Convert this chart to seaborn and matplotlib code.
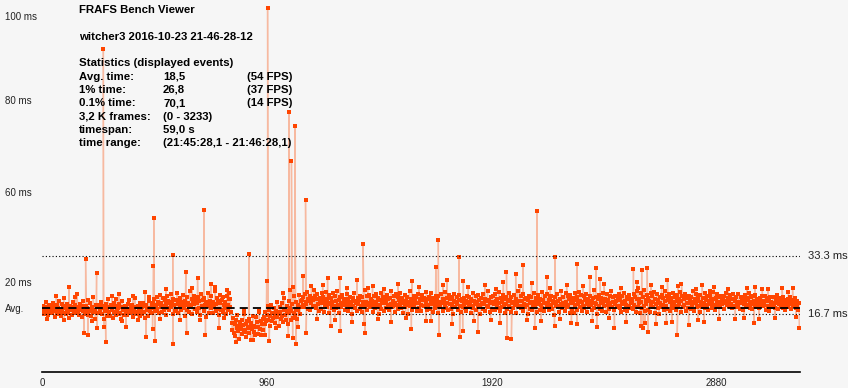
import numpy as np
import pandas as pd
import matplotlib.pyplot as plt
import seaborn as sns

# frame times in ms, one reading every 3rd frame
step = 3

# frames 0 - 471
a1_start = 0
a1_ms = [18.2, 17.5, 19.1, 16.8, 18.6, 17.9, 20.3, 17.2, 18.8, 16.4, 19.4, 18.1, 17.3, 18.9, 16.9, 19.8, 17.6, 18.4, 15.9, 18.7,
         17.8, 19.2, 16.6, 18.3, 20.6, 17.4, 18.0, 16.2, 19.5, 17.7, 18.5, 21.2, 17.1, 18.9, 16.7, 18.2, 19.7, 17.0, 18.6, 15.6,
         19.0, 17.9, 18.4, 16.5, 20.1, 18.7, 17.2, 19.3, 16.9, 18.1, 22.4, 17.5, 18.8, 16.3, 19.6, 17.8, 18.3, 15.8, 20.4, 17.6,
         18.9, 16.8, 19.1, 17.3, 18.5, 20.8, 16.4, 18.2, 17.7, 19.9, 16.1, 18.6, 17.4, 21.6, 17.9, 18.0, 15.4, 19.2, 17.1, 18.7,
         16.9, 19.4, 18.1, 17.5, 20.2, 16.6, 18.3, 19.0, 15.2, 18.8, 17.6, 19.7, 16.2, 18.4, 20.9, 17.2, 18.6, 16.0, 19.3, 17.8,
         18.2, 15.7, 19.8, 17.3, 18.9, 16.5, 21.0, 17.7, 18.4, 16.8, 19.5, 17.0, 18.6, 15.3, 20.5, 17.9, 18.1, 16.4, 19.1, 17.5,
         18.7, 16.3, 19.6, 17.8, 20.7, 16.9, 18.3, 17.2, 19.2, 15.9, 18.5, 17.6, 21.4, 17.1, 18.8, 16.6, 19.0, 17.4, 18.2, 16.1,
         19.9, 17.7, 18.6, 16.7, 20.0, 17.3, 18.9, 15.5, 19.4, 17.9, 18.1, 16.2, 20.6, 17.5, 18.4, 16.9, 19.2, 17.0]

# frames 474 - 807
a2_start = 474
a2_ms = [19.8, 18.4, 20.9, 17.6, 19.2, 21.5, 18.1, 20.3, 16.9, 19.7, 22.1, 18.6, 20.0, 17.3, 21.2, 19.1, 18.0, 20.7, 16.4, 19.5,
         21.8, 18.3, 20.4, 17.8, 19.9, 22.6, 18.7, 20.1, 16.6, 21.0, 19.3, 17.5, 20.8, 18.2, 22.9, 19.6, 17.1, 20.5, 18.9, 21.3,
         17.9, 20.2, 19.0, 22.3, 18.5, 16.2, 20.6, 19.4, 21.7, 18.0, 20.0, 17.4, 23.2, 19.2, 18.8, 21.1, 16.8, 20.3, 19.7, 22.0,
         18.1, 20.9, 17.2, 19.8, 21.6, 18.4, 20.4, 16.5, 22.5, 19.0, 18.6, 20.7, 17.7, 21.4, 19.3, 15.8, 20.1, 18.9, 22.8, 19.5,
         17.0, 20.5, 18.3, 21.9, 19.1, 16.9, 20.2, 18.7, 23.4, 19.6, 17.6, 21.2, 18.2, 20.6, 16.3, 19.9, 22.2, 18.0, 20.8, 17.4,
         21.5, 19.2, 18.5, 20.3, 16.7, 22.0, 19.4, 17.9, 20.9, 18.6, 21.1, 17.2]

# frames 810 - 945 (the dip)
b1_start = 810
b1_ms = [14.2, 12.1, 15.6, 11.3, 13.8, 10.4, 14.9, 12.7, 16.3, 11.8, 13.2, 9.6, 14.5, 12.4, 15.1, 10.9, 13.6, 12.0, 16.8, 11.5,
         13.9, 10.2, 14.7, 12.6, 11.1, 15.4, 13.0, 9.2, 14.1, 12.3, 16.0, 11.6, 13.4, 10.7, 15.8, 12.9, 14.4, 11.0, 13.1, 17.2,
         12.5, 14.8, 10.6, 13.7, 15.2, 12.2]

# frames 948 - 1107
b2_start = 948
b2_ms = [15.8, 13.9, 17.2, 14.6, 16.5, 18.9, 15.1, 17.8, 13.4, 16.2, 19.4, 14.8, 17.0, 15.5, 18.3, 16.7, 14.2, 17.6, 20.1, 15.9,
         16.8, 13.2, 18.6, 17.3, 15.4, 19.8, 16.1, 14.5, 18.0, 21.3, 16.4, 15.0, 19.1, 17.5, 13.7, 20.6, 16.9, 18.4, 14.9, 17.7,
         19.6, 15.6, 21.8, 17.1, 16.3, 20.2, 18.1, 15.2, 19.3, 17.9, 22.1, 16.6, 18.8, 20.4]

# frames 1110 - 1797
c1_start = 1110
c1_ms = [20.8, 19.3, 21.6, 18.7, 22.4, 20.1, 19.6, 23.1, 18.2, 21.0, 20.5, 17.9, 22.0, 19.8, 21.3, 18.9, 20.7, 23.5, 19.1, 21.8,
         18.4, 20.9, 22.6, 19.5, 17.6, 21.2, 20.3, 18.1, 22.9, 19.9, 21.5, 17.3, 20.6, 19.2, 23.0, 18.8, 21.1, 20.0, 16.9, 22.2,
         19.7, 21.4, 18.5, 20.2, 22.7, 19.0, 17.8, 21.9, 20.4, 18.3, 23.3, 19.4, 20.8, 17.1, 21.7, 19.6, 18.6, 22.1, 20.0, 19.2,
         21.0, 18.0, 20.5, 19.3, 22.5, 17.5, 20.9, 19.8, 21.6, 18.7, 20.2, 16.6, 21.3, 19.1, 22.8, 18.4, 20.6, 19.9, 17.7, 21.2,
         19.5, 20.7, 18.2, 22.0, 19.0, 21.5, 17.4, 20.3, 19.7, 23.6, 18.9, 20.1, 21.8, 17.9, 19.4, 22.3, 20.0, 18.6, 21.1, 19.3,
         20.6, 17.2, 21.9, 19.6, 18.3, 22.4, 20.2, 19.0, 21.4, 16.8, 20.8, 19.2, 22.7, 18.1, 20.4, 21.7, 19.8, 17.6, 21.0, 20.3,
         18.5, 22.1, 19.4, 20.9, 17.9, 21.3, 19.7, 23.2, 18.8, 20.5, 19.1, 21.8, 17.3, 20.0, 22.5, 19.3, 18.2, 21.6, 20.7, 19.5,
         22.9, 18.4, 20.1, 21.2, 17.0, 19.9, 22.2, 18.7, 20.6, 19.2, 21.5, 16.7, 20.3, 23.4, 19.0, 21.1, 18.0, 20.8, 19.6, 22.0,
         18.6, 20.4, 21.7, 17.7, 19.8, 22.6, 20.0, 18.3, 21.0, 19.4, 17.5, 22.3, 20.7, 19.1, 21.4, 18.9, 20.2, 23.0, 17.8, 20.9,
         19.3, 21.6, 18.1, 20.5, 22.8, 19.7, 17.2, 21.2, 20.1, 18.5, 22.0, 19.5, 20.8, 16.9, 21.9, 19.0, 20.3, 18.7, 22.4, 19.9,
         21.1, 17.6, 20.6, 19.2, 23.1, 18.4, 21.3, 20.0, 17.9, 22.2, 19.6, 20.9, 18.2, 21.7, 19.4, 16.6, 20.4, 22.5, 18.8, 20.2,
         19.7, 21.5, 18.0, 20.7, 22.1, 19.1, 17.4, 21.0, 20.5, 18.6]

# frames 1800 - 2517
c2_start = 1800
c2_ms = [19.4, 21.2, 18.3, 20.6, 17.7, 22.0, 19.9, 18.8, 21.5, 20.2, 17.1, 20.9, 19.0, 22.7, 18.5, 20.4, 19.6, 21.8, 17.9, 20.1,
         22.3, 18.9, 20.7, 19.3, 16.8, 21.4, 20.0, 18.2, 22.6, 19.7, 21.1, 17.5, 20.5, 19.1, 23.2, 18.6, 20.8, 19.8, 17.3, 21.6,
         20.3, 18.0, 21.9, 19.5, 22.4, 17.8, 20.6, 19.2, 21.0, 18.4, 23.0, 19.9, 17.6, 21.3, 20.1, 18.7, 22.1, 19.4, 20.9, 16.9,
         21.7, 19.6, 18.1, 20.4, 22.8, 19.0, 20.7, 17.4, 21.5, 19.8, 18.5, 22.2, 20.2, 19.3, 21.1, 17.0, 20.0, 23.4, 18.9, 20.6,
         19.1, 21.8, 18.3, 20.5, 17.7, 22.5, 19.7, 20.9, 18.6, 21.2, 19.4, 16.7, 20.8, 22.0, 18.2, 19.9, 21.6, 17.9, 20.3, 19.0,
         22.9, 18.8, 20.1, 21.4, 17.2, 19.6, 22.3, 20.4, 18.0, 21.0, 19.3, 23.1, 18.5, 20.7, 19.8, 17.5, 21.9, 20.0, 18.7, 22.6,
         19.5, 20.8, 17.8, 21.3, 19.2, 22.0, 18.1, 20.6, 19.9, 16.5, 21.7, 20.2, 18.9, 22.4, 19.0, 20.5, 17.4, 21.1, 19.7, 23.3,
         18.4, 20.0, 21.5, 19.1, 17.6, 22.7, 20.3, 18.6, 21.8, 19.4, 20.9, 17.1, 22.1, 19.8, 18.2, 21.2, 20.6, 16.9, 22.8, 19.3,
         20.7, 18.0, 21.6, 19.6, 23.0, 18.7, 20.4, 22.2, 17.7, 20.1, 19.0, 21.9, 18.3, 20.8, 22.5, 19.5, 17.3, 21.0, 20.2, 18.8,
         22.0, 19.2, 20.5, 17.9, 21.4, 23.5, 18.5, 20.0, 19.7, 21.7, 16.8, 20.9, 22.3, 19.1, 18.1, 21.2, 20.3, 17.6, 22.7, 19.9,
         18.9, 21.1, 20.6, 17.4, 22.4, 19.3, 20.8, 18.2, 21.9, 19.8, 23.2, 18.6, 20.1, 21.5, 17.8, 19.5, 22.0, 20.4, 18.7, 21.3,
         19.0, 22.6, 18.4, 20.7, 17.2, 21.8, 19.6, 20.2, 22.9, 18.0, 20.5, 19.4, 21.6, 17.7, 20.9, 19.1, 22.2, 18.3, 20.0, 21.0]

# frames 2520 - 3231
c3_start = 2520
c3_ms = [20.4, 18.1, 22.5, 19.3, 21.7, 17.2, 20.9, 23.4, 18.6, 21.1, 19.8, 16.9, 22.8, 20.2, 18.4, 21.5, 19.0, 23.7, 17.6, 20.7,
         19.5, 22.1, 18.0, 21.3, 20.6, 17.4, 22.9, 19.2, 21.8, 18.7, 20.3, 23.1, 17.0, 21.0, 19.7, 22.4, 18.3, 20.8, 16.8, 21.6,
         20.0, 18.8, 22.2, 19.4, 21.2, 17.8, 20.5, 23.3, 19.1, 21.9, 18.2, 20.7, 22.6, 17.5, 20.1, 21.4, 19.6, 18.5, 22.7, 20.3,
         19.0, 21.7, 17.9, 20.6, 22.3, 18.9, 21.1, 19.5, 23.0, 17.3, 20.4, 21.8, 18.6, 20.9, 19.2, 22.5, 17.7, 21.3, 20.0, 18.4,
         22.0, 19.8, 20.7, 18.1, 21.5, 19.3, 23.2, 20.2, 17.6, 21.0, 19.9, 22.4, 18.7, 20.5, 21.7, 19.1, 17.2, 22.1, 20.3, 18.8,
         21.2, 19.6, 20.0, 22.7, 18.5, 20.8, 19.4, 21.9, 18.0, 20.4, 22.2, 19.7, 21.0, 18.3, 20.6, 23.0, 19.2, 20.9, 17.9, 21.4,
         20.1, 22.5, 19.0, 21.6, 20.3, 18.6, 22.0, 19.5, 21.1, 20.7, 18.2, 21.8, 19.8, 20.5, 22.8, 19.3, 21.3, 18.9, 20.2, 22.2,
         19.7, 21.0, 18.4, 20.9, 22.4, 19.1, 20.6, 21.7, 18.7, 20.0, 19.4, 22.6, 20.3, 18.1, 21.5, 19.9, 20.8, 17.8, 21.2, 19.6,
         20.4, 22.1, 18.8, 21.3, 19.2, 20.7, 22.9, 18.5, 20.1, 21.6, 19.5, 18.2, 21.9, 20.5, 19.0, 22.3, 20.0, 18.6, 21.1, 19.8,
         20.9, 18.3, 21.4, 19.7, 20.2, 22.0, 18.9, 20.6, 19.3, 21.8, 18.0, 20.4, 21.2, 19.1, 20.8, 17.7, 21.5, 19.9, 20.3, 18.7,
         21.7, 19.4, 20.0, 18.5, 21.0, 19.8, 22.2, 18.1, 20.5, 19.6, 21.3, 18.8, 20.1, 19.2, 21.6, 18.4, 20.7, 19.5, 17.9, 20.2,
         19.0, 21.1, 18.6, 20.4, 19.7, 21.5, 18.2, 20.0, 19.3, 20.8, 18.9, 21.2, 19.6, 18.4, 20.5, 19.1, 17.8, 19.9]

# single frames that stick out of the band (stutters and short frames)
spike_frames = [116, 179, 186, 195, 233, 236, 262, 266, 272, 327, 358, 440, 444, 472, 476, 477, 482,
                558, 560, 614, 617, 664, 692, 698, 720, 756, 790, 883, 951, 959, 963, 970,
                1052, 1055, 1058, 1065, 1070, 1073, 1080, 1083, 1115, 1125, 1128, 1219, 1232, 1271, 1274,
                1345, 1371, 1375, 1378, 1390, 1577, 1580, 1640, 1681, 1692, 1694, 1730, 1780, 1783, 1796, 1799,
                1860, 1970, 1983, 1985, 2004, 2022, 2053, 2103, 2113, 2156, 2188, 2190, 2283, 2285,
                2338, 2366, 2368, 2383, 2444, 2525, 2545, 2557, 2560, 2567, 2584, 2588, 2666, 2670,
                2712, 2716, 2819, 2827, 2850, 2998, 3040, 3043, 3075, 3186, 3204, 3233]
spike_ms = [24.5, 11.1, 32.7, 10.7, 28.6, 12.8, 93.0, 13.0, 8.7, 22.6, 13.0, 23.1, 10.2, 12.4, 30.6, 44.5, 9.0,
            33.6, 8.2, 28.9, 11.3, 27.2, 46.8, 10.8, 25.3, 12.8, 23.5, 34.0, 10.8, 26.2, 105.0, 8.8,
            10.4, 75.0, 23.5, 60.8, 9.9, 24.6, 71.0, 8.2, 27.7, 49.6, 11.1, 27.0, 13.2, 27.2, 11.8,
            26.4, 36.8, 13.7, 11.3, 24.3, 12.3, 26.2, 14.7, 30.3, 38.0, 10.8, 26.5, 33.0, 10.2, 11.8, 26.2,
            11.6, 26.0, 28.9, 9.9, 9.4, 28.2, 30.8, 12.6, 46.4, 27.4, 13.3, 33.0, 13.7, 31.0,
            27.5, 30.0, 13.0, 26.7, 12.8, 29.8, 24.3, 13.3, 29.4, 12.7, 30.0, 11.6, 14.2, 26.4,
            10.7, 24.7, 25.0, 14.4, 23.4, 15.5, 14.2, 24.6, 24.0, 23.0, 24.3, 12.8]

# looser frames just outside the dense band
stray_frames = [22, 61, 95, 140, 214, 298, 343, 389, 410, 455, 505, 530, 590, 641, 676, 740, 775, 800,
                830, 862, 901, 925, 1000, 1030, 1093, 1150, 1175, 1198, 1250, 1300, 1322, 1411, 1433, 1460,
                1490, 1520, 1552, 1610, 1660, 1712, 1750, 1820, 1843, 1890, 1915, 1940, 1955, 2040, 2070,
                2090, 2130, 2170, 2210, 2240, 2260, 2310, 2350, 2400, 2420, 2470, 2495, 2540, 2575, 2600,
                2620, 2645, 2690, 2730, 2760, 2790, 2800, 2870, 2890, 2930, 2960, 3010, 3060, 3100, 3130,
                3160, 3220]
stray_ms = [15.2, 21.8, 15.0, 21.5, 14.8, 21.9, 14.6, 22.0, 15.1, 21.7, 15.3, 23.8, 14.9, 24.1, 15.0, 24.4, 15.6, 22.9,
            8.6, 17.8, 9.3, 17.5, 12.6, 22.8, 13.1, 24.7, 15.4, 25.1, 15.0, 24.2, 14.5, 24.8, 15.2, 23.9,
            14.3, 25.3, 15.6, 24.5, 14.8, 25.0, 13.9, 24.6, 14.7, 25.2, 15.1, 24.0, 14.2, 24.9, 15.0,
            25.6, 14.6, 24.3, 15.3, 25.0, 14.1, 24.7, 14.8, 25.4, 15.5, 24.2, 14.4, 25.8, 14.0, 25.1,
            13.8, 24.6, 14.3, 25.5, 13.6, 24.0, 14.9, 24.4, 15.2, 23.8, 15.4, 24.2, 15.3, 23.9, 15.6,
            24.1, 15.8]

# stats panel
avg_ms = 18.5
title = "FRAFS Bench Viewer"
run_name = "witcher3 2016-10-23 21-46-28-12"
stat_names = ["Avg. time:", "1% time:", "0.1% time:", "3,2 K frames:", "timespan:", "time range:"]
stat_values = ["18,5", "26,8", "70,1", "(0 - 3233)", "59,0 s", "(21:45:28,1 - 21:46:28,1)"]
stat_fps = ["(54 FPS)", "(37 FPS)", "(14 FPS)", "", "", ""]

# y labels as they sit in the viewer
ytick_pos = [102.7, 78.4, 52.0, 25.8, avg_ms]
ytick_text = ["100 ms", "80 ms", "60 ms", "20 ms", "Avg."]
xtick_pos = [0, 960, 1920, 2880]
ref_lines = [33.3, 16.7]

# build one ordered series
segments = [(a1_start, a1_ms), (a2_start, a2_ms), (b1_start, b1_ms), (b2_start, b2_ms),
            (c1_start, c1_ms), (c2_start, c2_ms), (c3_start, c3_ms)]
frames = [np.arange(s, s + step * len(v), step) for s, v in segments] + [np.array(spike_frames), np.array(stray_frames)]
times = [np.array(v) for s, v in segments] + [np.array(spike_ms), np.array(stray_ms)]
df = pd.DataFrame({"frame": np.concatenate(frames), "ms": np.concatenate(times)})
df = df.sort_values("frame", kind="stable").reset_index(drop=True)

sns.set_style("white")
plt.rcParams['font.family'] = ['Liberation Sans', 'DejaVu Sans']

bg = "#f6f6f6"
fig = plt.figure(figsize=(8.48, 3.88), dpi=100, facecolor=bg)
ax = fig.add_axes([42 / 848, 16 / 388, 758 / 848, 372 / 388])
ax.set_facecolor(bg)

sns.lineplot(data=df, x="frame", y="ms", estimator=None, sort=False, color="#f7b9a0", lw=1.0, ax=ax, zorder=2)
sns.scatterplot(data=df, x="frame", y="ms", marker="s", s=9, color="#ff4500", linewidth=0, ax=ax, zorder=3)

# reference lines
for v in ref_lines:
    ax.axhline(v, color="black", lw=0.8, linestyle=(0, (1, 2)), zorder=4)
    ax.text(1.0106, v, f"{v} ms", transform=ax.get_yaxis_transform(), va="center", ha="left",
            fontsize=8, color="#222222")
ax.axhline(avg_ms, color="black", lw=1.3, linestyle=(0, (4.5, 2.8)), zorder=4)

ax.set_xlim(0, 3236)
ax.set_ylim(0, 107.2)
ax.set_xticks(xtick_pos)
ax.set_xticklabels([str(t) for t in xtick_pos], fontsize=7, color="#222222")
ax.set_yticks(ytick_pos)
ax.set_yticklabels(ytick_text, fontsize=7, color="#222222")
ax.tick_params(axis="y", length=0, pad=26.6)
for lbl in ax.get_yticklabels():
    lbl.set_horizontalalignment("left")
ax.tick_params(axis="x", length=3, width=1, color="black", pad=1)
ax.set_xlabel("")
ax.set_ylabel("")
sns.despine(ax=ax, left=True)
ax.spines["bottom"].set_linewidth(1.2)
ax.spines["bottom"].set_color("black")

# stats text block
def put(x, y, s):
    fig.text(x / 848, 1 - y / 388, s, fontsize=8.2, fontweight="bold", va="center", ha="left", color="black")

put(79, 10, title)
put(79, 36.7, run_name)
put(79, 62.7, "Statistics (displayed events)")
for i, (n, v, f) in enumerate(zip(stat_names, stat_values, stat_fps)):
    y = 76.5 + i * 13.35
    put(79, y, n)
    put(163, y, v)
    if f:
        put(247, y, f)

fig.savefig("out.png", dpi=100, facecolor=bg)
